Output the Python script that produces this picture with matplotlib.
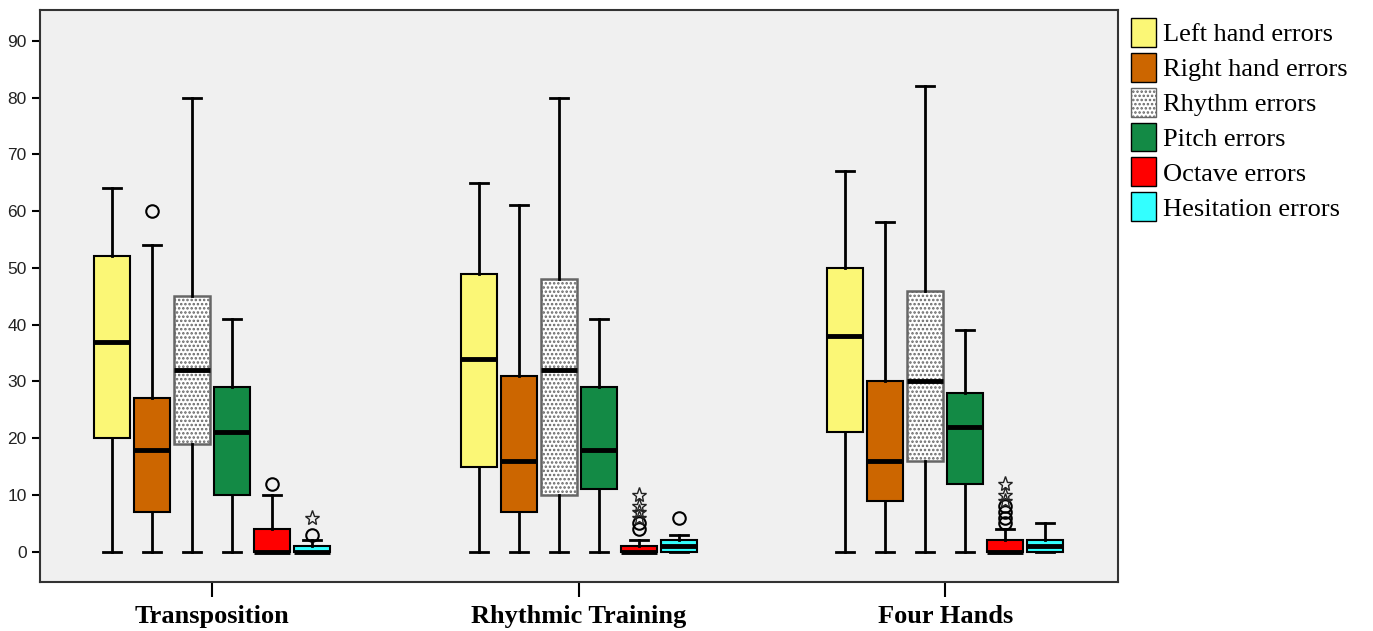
import matplotlib.pyplot as plt
from matplotlib.patches import Patch
import numpy as np

plt.rcParams['hatch.color'] = '#777777'
plt.rcParams['hatch.linewidth'] = 1.2

groups = ['Transposition', 'Rhythmic Training', 'Four Hands']
series = ['Left hand errors', 'Right hand errors', 'Rhythm errors',
          'Pitch errors', 'Octave errors', 'Hesitation errors']
colors = ['#FBF776', '#CC6600', '#FFFFFF', '#138A45', '#FF0000', '#33FFFF']

# five-number summaries per series: [whislo, q1, med, q3, whishi] for each group
left_hand = [[0, 20, 37, 52, 64], [0, 15, 34, 49, 65], [0, 21, 38, 50, 67]]
right_hand = [[0, 7, 18, 27, 54], [0, 7, 16, 31, 61], [0, 9, 16, 30, 58]]
rhythm = [[0, 19, 32, 45, 80], [0, 10, 32, 48, 80], [0, 16, 30, 46, 82]]
pitch = [[0, 10, 21, 29, 41], [0, 11, 18, 29, 41], [0, 12, 22, 28, 39]]
octave = [[0, 0, 0, 4, 10], [0, 0, 0, 1, 2], [0, 0, 0, 2, 4]]
hesitation = [[0, 0, 0, 1, 2], [0, 0, 1, 2, 3], [0, 0, 1, 2, 5]]

# outliers (circles) and extremes (stars)
circles = {
    (0, 1): [60], (0, 4): [12], (0, 5): [3],
    (1, 4): [4, 5], (1, 5): [6],
    (2, 4): [5, 6, 7, 8],
}
stars = {
    (0, 5): [6],
    (1, 4): [6, 7, 8, 10],
    (2, 4): [9, 10, 12],
}

all_series = [left_hand, right_hand, rhythm, pitch, octave, hesitation]

fig = plt.figure(figsize=(13.73, 6.31), dpi=100)
ax = fig.add_axes([0.029, 0.078, 0.785, 0.906])
ax.set_facecolor('#F0F0F0')

step = 0.109
width = 0.098
for s, data in enumerate(all_series):
    stats = []
    pos = []
    for g, (lo, q1, med, q3, hi) in enumerate(data):
        stats.append(dict(whislo=lo, q1=q1, med=med, q3=q3, whishi=hi,
                          fliers=circles.get((g, s), [])))
        pos.append(g + (s - 2.5) * step)
    bp = ax.bxp(stats, positions=pos, widths=width, patch_artist=True,
                manage_ticks=False,
                boxprops=dict(facecolor=colors[s], edgecolor='black', linewidth=1.5),
                medianprops=dict(color='black', linewidth=3.5),
                whiskerprops=dict(color='black', linewidth=2),
                capprops=dict(color='black', linewidth=2),
                capwidths=width * 0.5,
                flierprops=dict(marker='o', markerfacecolor='none',
                                markeredgecolor='black', markersize=9,
                                markeredgewidth=1.5))
    if s == 2:
        for b in bp['boxes']:
            b.set_hatch('....')
            b.set_edgecolor('#666666')
            b.set_linewidth(1.8)
    for g in range(3):
        if (g, s) in stars:
            ys = stars[(g, s)]
            ax.plot([pos[g]] * len(ys), ys, linestyle='none', marker='*',
                    markerfacecolor='none', markeredgecolor='#222222',
                    markersize=11, markeredgewidth=1)

ax.set_xlim(-0.47, 2.47)
ax.set_ylim(-5.3, 95.4)
ax.set_yticks(np.arange(0, 100, 10))
ax.set_yticklabels([str(v) for v in range(0, 100, 10)],
                   fontfamily='Liberation Sans', fontsize=12.5, color='#222222')
ax.tick_params(axis='y', length=6, width=1.5)
ax.set_xticks(range(3))
ax.set_xticklabels(groups, fontfamily='Liberation Serif', fontweight='bold', fontsize=19)
ax.tick_params(axis='x', length=11, width=1.5, pad=6)
for sp in ax.spines.values():
    sp.set_linewidth(1.5)
    sp.set_color('#333333')

handles = []
for s in range(6):
    handles.append(Patch(facecolor=colors[s],
                         edgecolor='#666666' if s == 2 else 'black',
                         hatch='....' if s == 2 else None, label=series[s]))
fig.legend(handles=handles, loc='upper left', bbox_to_anchor=(0.816, 0.988),
           frameon=False, prop=dict(family='Liberation Serif', size=19),
           handlelength=0.95, handleheight=1.3, handletextpad=0.25,
           labelspacing=0.23, borderaxespad=0)

fig.savefig('out.png', dpi=100)
